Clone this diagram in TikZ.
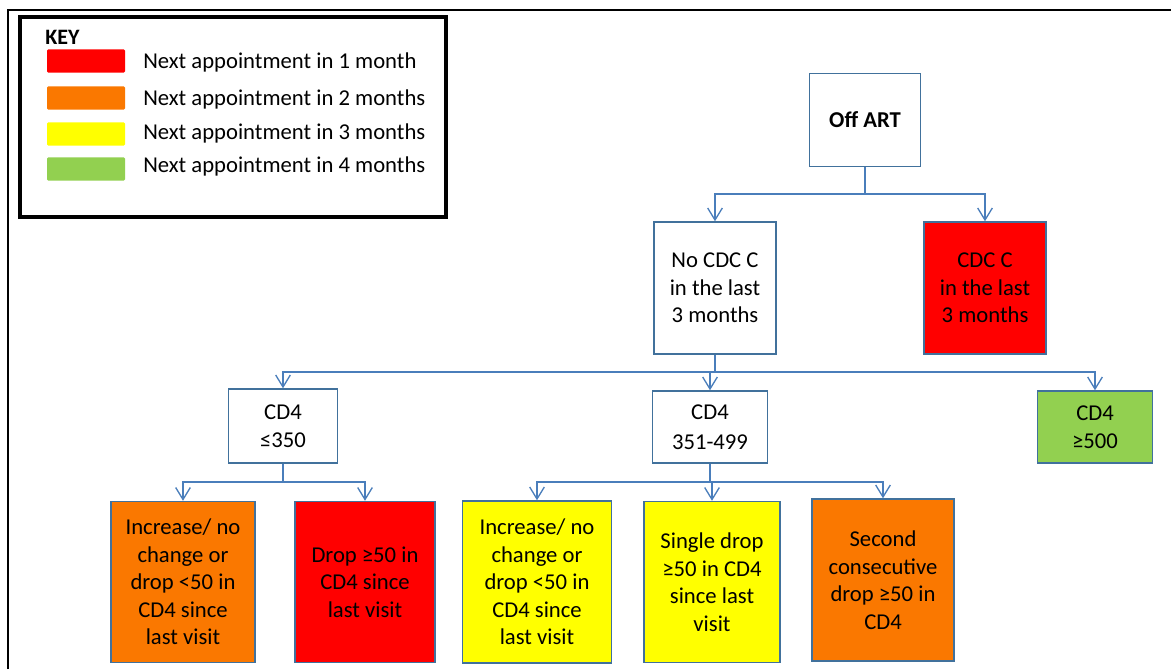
\documentclass[tikz,border=0pt]{standalone}
\usepackage{fontspec}
\setmainfont{Carlito}
\usetikzlibrary{arrows.meta}
\definecolor{boxline}{RGB}{65,113,156}
\definecolor{linkline}{RGB}{74,126,187}
\definecolor{apptred}{RGB}{255,0,0}
\definecolor{apptorange}{RGB}{250,120,0}
\definecolor{apptyellow}{RGB}{255,255,0}
\definecolor{apptgreen}{RGB}{146,208,80}
\begin{document}
\begin{tikzpicture}[x=0.75pt,y=-0.75pt,
        flowbox/.style={draw=boxline,line width=1.1pt,align=center,inner sep=0pt,
            font=\fontsize{17}{20.6}\selectfont},
        link/.style={draw=linkline,line width=1pt},
        arrowlink/.style={link,-{Straight Barb[length=9pt,width=11pt]}},
        swatch/.style={minimum width=58.5pt,minimum height=17.5pt,inner sep=0pt,rounded corners=1pt},
        keytext/.style={anchor=west,inner sep=0pt,font=\fontsize{17}{20}\selectfont}]
        \useasboundingbox (0,0) rectangle (1171,669);
        %% Frame
        \draw[line width=1.4pt] (8,669) -- (8,10) -- (1171,10);
        %% Key
        \node[draw,line width=2.6pt,minimum width=319.5pt,minimum height=150pt] (key) at (233,117) {};
        \node[anchor=west,inner sep=0pt,font=\fontsize{16.5}{19}\selectfont\bfseries] (keytitle) at (45,37) {KEY};
        \node[swatch,fill=apptred] (swred) at (86,61) {};
            \node[keytext] (keyred) at (143,62) {Next appointment in 1 month};
        \node[swatch,fill=apptorange] (sworange) at (86,98) {};
            \node[keytext] (keyorange) at (143,99) {Next appointment in 2 months};
        \node[swatch,fill=apptyellow] (swyellow) at (86,134) {};
            \node[keytext] (keyyellow) at (143,133) {Next appointment in 3 months};
        \node[swatch,fill=apptgreen] (swgreen) at (86,169) {};
            \node[keytext] (keygreen) at (143,166) {Next appointment in 4 months};
        %% Boxes
        \node[flowbox,minimum width=83.25pt,minimum height=69.75pt,font=\fontsize{17}{20.6}\selectfont\bfseries] (offart) at (865,120) {Off ART};
        \node[flowbox,minimum width=91.5pt,minimum height=99pt] (nocdc) at (715,288) {No CDC C\\in the last\\3 months};
        \node[flowbox,fill=apptred,minimum width=91.5pt,minimum height=99pt] (cdc) at (985,288) {CDC C\\in the last\\3 months};
        \node[flowbox,minimum width=81.75pt,minimum height=55.5pt] (cdlow) at (283,426) {CD4\\≤350};
        \node[flowbox,minimum width=86.25pt,minimum height=54pt] (cdmid) at (710,427) {CD4\\[2pt]351-499};
        \node[flowbox,fill=apptgreen,minimum width=86.25pt,minimum height=54pt] (cdhigh) at (1095,427) {CD4\\≥500};
        \node[flowbox,fill=apptorange,minimum width=108pt,minimum height=120.75pt] (lowsame) at (183,582) {Increase/ no\\change or\\drop <50 in\\CD4 since\\last visit};
        \node[flowbox,fill=apptred,minimum width=105pt,minimum height=120.75pt] (lowdrop) at (365,582) {Drop ≥50 in\\CD4 since\\last visit};
        \node[flowbox,fill=apptyellow,minimum width=111.75pt,minimum height=121.5pt] (midsame) at (537,582) {Increase/ no\\change or\\drop <50 in\\CD4 since\\last visit};
        \node[flowbox,fill=apptyellow,minimum width=102pt,minimum height=120.75pt] (middrop) at (712,582) {Single drop\\≥50 in CD4\\since last\\visit};
        \node[flowbox,fill=apptorange,minimum width=106.5pt,minimum height=121.5pt] (midsecond) at (883,580) {Second\\consecutive\\drop ≥50 in\\CD4};
        %% Connectors
        \coordinate (splitart) at (865,194);
        \coordinate (splitcdc) at (715,372);
        \coordinate (splitlow) at (283,482);
        \coordinate (splitmid) at (710,482);
        \draw[link] (offart.south) -- (splitart);
            \draw[arrowlink] (splitart) -| (nocdc.north);
            \draw[arrowlink] (splitart) -| (cdc.north);
        \draw[link] (nocdc.south) -- (splitcdc);
            \draw[arrowlink] (splitcdc) -| (cdlow.north);
            \draw[arrowlink] (splitcdc) -| (cdmid.north);
            \draw[arrowlink] (splitcdc) -| (cdhigh.north);
        \draw[link] (cdlow.south) -- (splitlow);
            \draw[arrowlink] (splitlow) -| (lowsame.north);
            \draw[arrowlink] (splitlow) -| (lowdrop.north);
        \draw[link] (cdmid.south) -- (splitmid);
            \draw[arrowlink] (splitmid) -| (midsame.north);
            \draw[arrowlink] (splitmid) -| (middrop.north);
            \draw[arrowlink] (splitmid) -| (midsecond.north);
    \end{tikzpicture}
\end{document}
